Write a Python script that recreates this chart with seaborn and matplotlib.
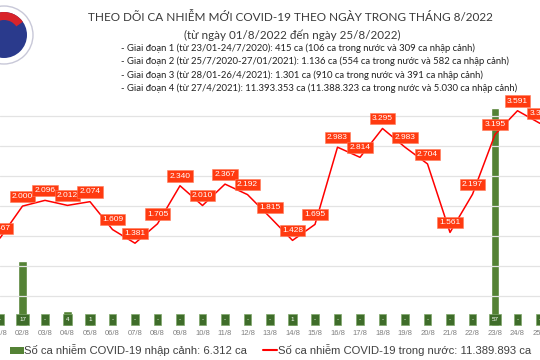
import matplotlib
matplotlib.use('agg')
import matplotlib.pyplot as plt
import seaborn as sns
import pandas as pd
from matplotlib.patches import Circle, Wedge, Rectangle
from matplotlib.lines import Line2D

# Data (01/8 - 25/8/2022)
days = [f'{d:02d}/8' for d in range(1, 26)]
domestic = [1467, 2000, 2096, 2012, 2074, 1609, 1381, 1705, 2340, 2010, 2367, 2192,
            1815, 1428, 1695, 2983, 2814, 3295, 2983, 2704, 1561, 2197, 3195, 3591, 3380]
imported = [0, 17, 0, 4, 1, 0, 0, 0, 0, 0, 0, 0, 0, 1, 0, 0, 0, 0, 0, 0, 0, 0, 57, 0, 0]

title = 'THEO DÕI CA NHIỄM MỚI COVID-19 THEO NGÀY TRONG THÁNG 8/2022'
subtitle = '(từ ngày 01/8/2022 đến ngày 25/8/2022)'
notes = [
    '- Giai đoạn 1 (từ 23/01-24/7/2020): 415 ca (106 ca trong nước và 309 ca nhập cảnh)',
    '- Giai đoạn 2 (từ 25/7/2020-27/01/2021): 1.136 ca (554 ca trong nước và 582 ca nhập cảnh)',
    '- Giai đoạn 3 (từ 28/01-26/4/2021): 1.301 ca (910 ca trong nước và 391 ca nhập cảnh)',
    '- Giai đoạn 4 (từ 27/4/2021): 11.393.353 ca (11.388.323 ca trong nước và 5.030 ca nhập cảnh)',
]
legend_imported = 'Số ca nhiễm COVID-19 nhập cảnh: 6.312 ca'
legend_domestic = 'Số ca nhiễm COVID-19 trong nước: 11.389.893 ca'

GREEN = '#548235'
RED = '#ff0000'
LABEL_RED = '#ff3a10'

df = pd.DataFrame({'day': days, 'pos': range(len(days)),
                   'domestic': domestic, 'imported': imported})

sns.set_style('white')
plt.rcParams['font.family'] = ['Liberation Sans', 'DejaVu Sans']

fig = plt.figure(figsize=(5.4, 3.6), dpi=100)
ax = fig.add_axes([0, 34 / 360, 1, 226 / 360])
ax2 = ax.twinx()

# imported cases as bars (bottom layer)
sns.barplot(data=df, x='pos', y='imported', color=GREEN, width=0.39,
            saturation=1, ax=ax, native_scale=True)
ax.set_ylim(0, 59)
for x, v in zip(df['pos'], imported):
    ax.annotate('-' if v == 0 else str(v), (x, 0), xytext=(0, 4.5),
                textcoords='offset points', ha='center', va='center',
                fontsize=4.5, color='white',
                bbox=dict(boxstyle='square,pad=0.45', fc='#3f6d2a',
                          ec='#7fa86a', lw=0.5))

# domestic cases as line (top layer)
sns.lineplot(data=df, x='pos', y='domestic', color=RED, lw=1.1, ax=ax2)
ax2.set_ylim(0, 3770)
for x, v in zip(df['pos'], domestic):
    ax2.annotate(f'{v/1000:.3f}', (x, v), xytext=(0, 7),
                 textcoords='offset points', ha='center', va='center',
                 fontsize=6, color='white',
                 bbox=dict(boxstyle='square,pad=0.25', fc=LABEL_RED,
                           ec='#ff7a5a', lw=0.4))

# gridlines every 500 on the line axis
for g in range(500, 3600, 500):
    ax2.axhline(g, color='#e3e3e3', lw=0.9, zorder=0)
ax2.set_zorder(2)
ax.set_zorder(1)
ax2.patch.set_visible(False)
ax.patch.set_visible(False)

ax.set_xlim(0.218, 0.218 + 540 / 22.96)
ax.set_xticks(df['pos'])
ax.set_xticklabels(days, fontsize=5.5, color='#808080')
ax.tick_params(axis='x', length=0, pad=3)
ax.set_yticks([])
ax2.set_yticks([])
ax.set_xlabel('')
ax.set_ylabel('')
ax2.set_xlabel('')
ax2.set_ylabel('')
for a in (ax, ax2):
    for s in a.spines.values():
        s.set_visible(False)

# header text
fig.text(290 / 540, 1 - 17 / 360, title, ha='center', va='center', fontsize=8.5,
         family=['Lato', 'DejaVu Sans'], color='#3a3a3a')
fig.text(292 / 540, 1 - 35 / 360, subtitle, ha='center', va='center', fontsize=8.4,
         family=['Lato', 'DejaVu Sans'], color='#3a3a3a')
for i, line in enumerate(notes):
    fig.text(121 / 540, 1 - (48 + i * 13.5) / 360, line, ha='left', va='center',
             fontsize=6.8, family=['Lato', 'DejaVu Sans'], color='#222222')

# simplified logo at top-left
c = (0.04, 3.6 - 0.35)
tr = fig.dpi_scale_trans
fig.patches.append(Circle(c, 0.29, transform=tr, fc='white', ec='#c8c8d8', lw=1))
fig.patches.append(Circle(c, 0.23, transform=tr, fc='#2a3a8c', ec='none'))
fig.patches.append(Wedge(c, 0.23, 35, 145, width=0.08, transform=tr,
                         fc='#d8232a', ec='none'))

# legend row
fig.patches.append(Rectangle((10 / 540, 1 - 354 / 360), 14 / 540, 7 / 360,
                             transform=fig.transFigure, fc=GREEN, ec='none'))
fig.text(24 / 540, 1 - 350 / 360, legend_imported, ha='left', va='center',
         fontsize=8.1, color='#404040')
fig.lines.append(Line2D([263 / 540, 277 / 540], [1 - 350 / 360] * 2,
                        transform=fig.transFigure, color=RED, lw=1.5))
fig.text(278 / 540, 1 - 350 / 360, legend_domestic, ha='left', va='center',
         fontsize=8.1, color='#404040')

fig.savefig('out.png', dpi=100)
